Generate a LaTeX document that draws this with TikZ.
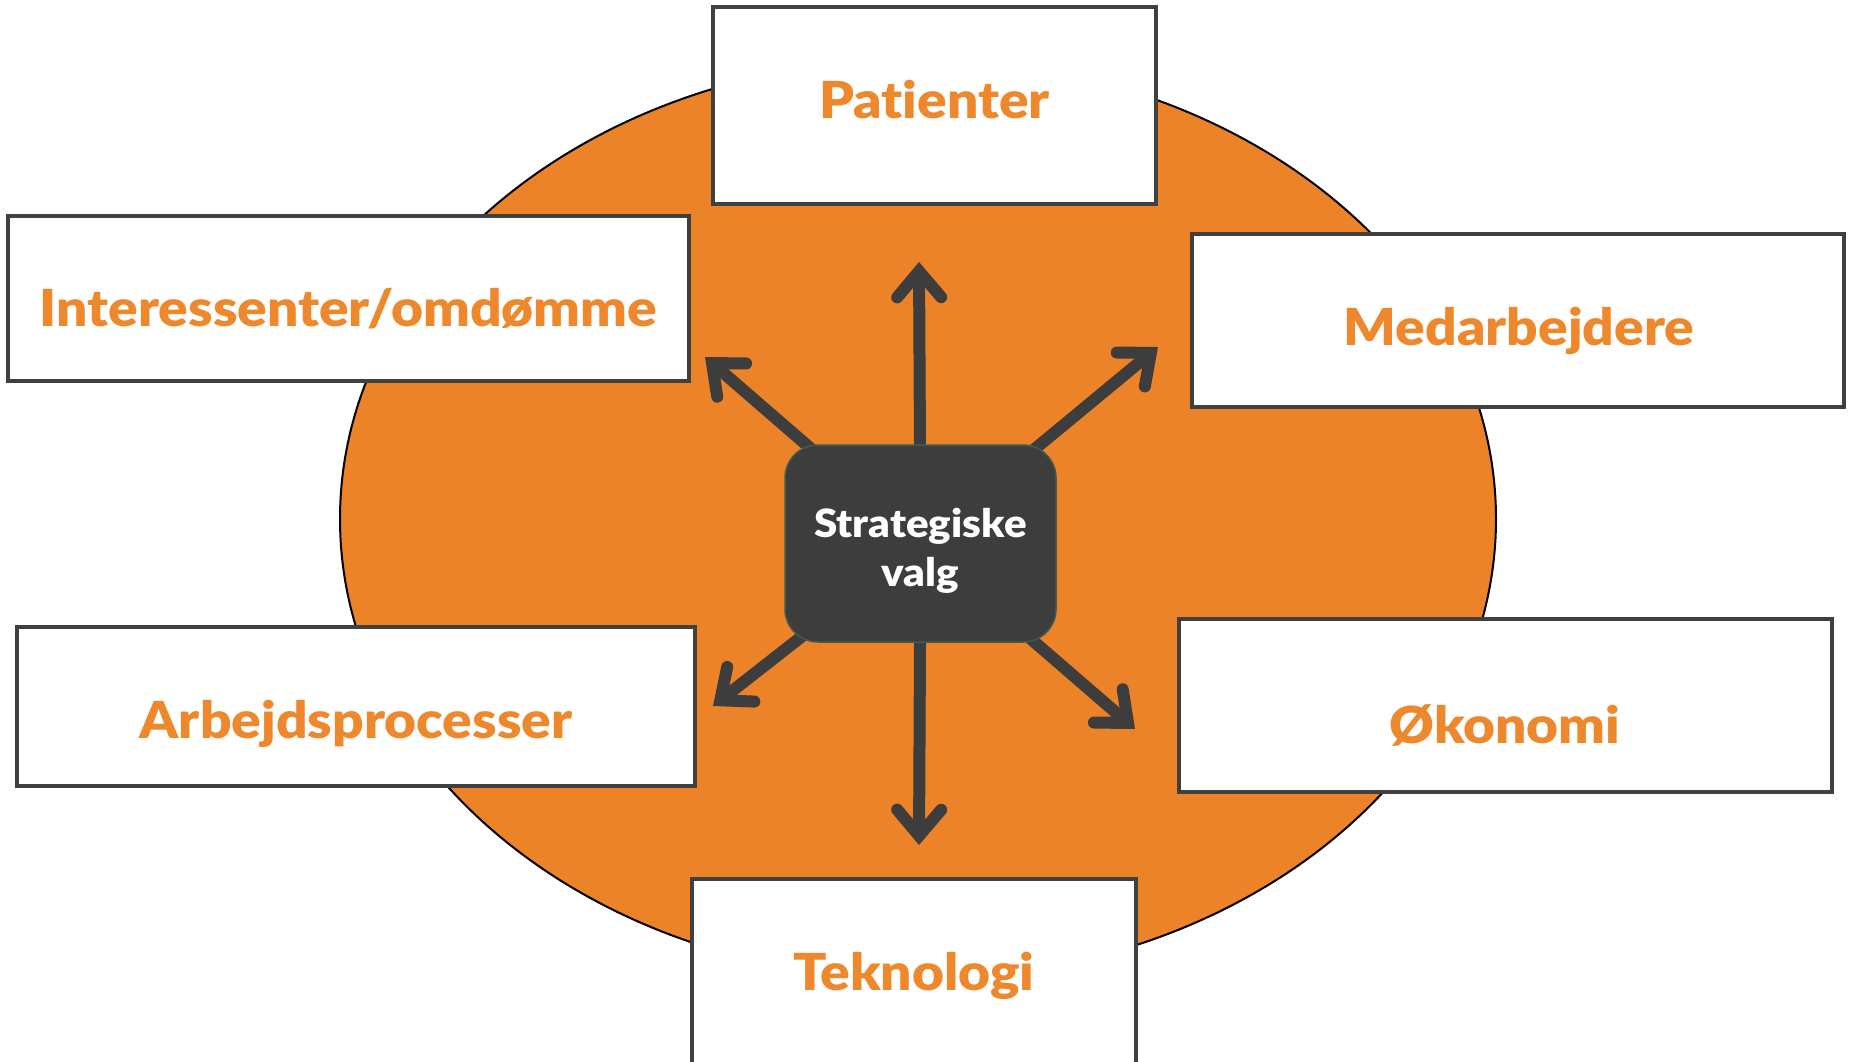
\documentclass[tikz,border=0pt]{standalone}
\usepackage{fontspec}
\setmainfont{Lato}
\newfontfamily\lblfont{Lato Black}[FakeStretch=1.08, RawFeature=-liga]
\usetikzlibrary{arrows.meta}
\definecolor{orng}{HTML}{ED8328}
\definecolor{txtor}{HTML}{EE882D}
\definecolor{dk}{HTML}{3D3D3D}
\definecolor{bord}{HTML}{404040}
\definecolor{svb}{HTML}{3E5C50}
\pgfdeclarelayer{bg}
\pgfsetlayers{bg,main}
\tikzset{
  outbox/.style={draw=bord, line width=4pt, fill=white, inner sep=0pt},
  lbl/.style={text=txtor, font=\fontsize{51}{60}\lblfont, anchor=base, inner sep=0pt},
  arr/.style={draw=dk, line width=12pt, -{Straight Barb[length=26pt,width=44pt,line cap=round,line join=miter]}},
}
\begin{document}
\begin{tikzpicture}[x=1pt,y=-1pt]
\useasboundingbox (0,0) rectangle (1850,1062);
% outer boxes
\node[outbox, minimum width=443pt, minimum height=197pt] (pat) at (934.5,105.5) {};
\node[outbox, minimum width=681pt, minimum height=165pt] (int) at (348.5,298.5) {};
\node[outbox, minimum width=652pt, minimum height=173pt] (med) at (1518,320.5) {};
\node[outbox, minimum width=678pt, minimum height=159pt] (arb) at (356,706.5) {};
\node[outbox, minimum width=653pt, minimum height=173pt] (oko) at (1505.5,705.5) {};
\node[outbox, minimum width=444pt, minimum height=200pt] (tek) at (914,979) {};
% labels
\node[lbl] (tpat) at (934.5,119) {Patienter};
\node[lbl] (tint) at (348.5,326) {Interessenter/omdømme};
\node[lbl] (tmed) at (1519,345) {Medarbejdere};
\node[lbl] (tarb) at (356,738) {Arbejdsprocesser};
\node[lbl] (toko) at (1505,743) {Økonomi};
\node[lbl] (ttek) at (914,990) {Teknologi};
% centre
\node[draw=svb, line width=1.5pt, fill=dk, rounded corners=33pt, minimum width=271pt, minimum height=197pt,
  label={[name=svt, text=white, font=\fontsize{39}{49}\lblfont, align=center, yshift=-7pt]center:Strategiske\\valg}] (sv) at (920.5,543.5) {};
% tips
\coordinate (tipU) at (919,262);
\coordinate (tipUL) at (705,357);
\coordinate (tipUR) at (1158,347);
\coordinate (tipLL) at (713,706);
\coordinate (tipLR) at (1135,729);
\coordinate (tipD) at (919,845);
\begin{pgfonlayer}{bg}
\draw[fill=orng, draw=black, line width=2pt] (918,519) ellipse [x radius=578pt, y radius=460pt];
\draw[arr] (sv.center) -- (tipU);
\draw[arr] (sv.center) -- (tipUL);
\draw[arr] (sv.center) -- (tipUR);
\draw[arr] (sv.center) -- (tipLL);
\draw[arr] (sv.center) -- (tipLR);
\draw[arr] (sv.center) -- (tipD);
\end{pgfonlayer}
\end{tikzpicture}
\end{document}
